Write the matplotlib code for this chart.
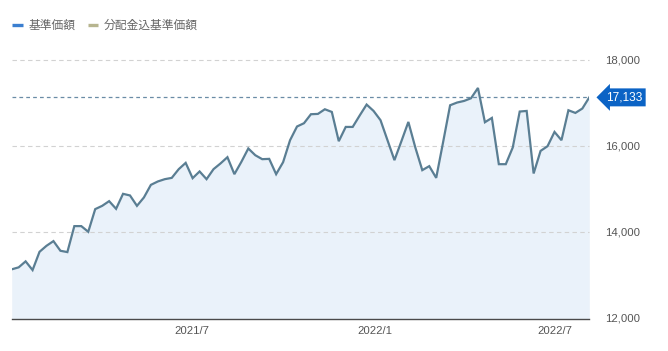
import matplotlib
matplotlib.use("Agg")
import matplotlib.pyplot as plt
from matplotlib.lines import Line2D
import numpy as np
import pandas as pd

start_date = "2021-01-01"
nav = [13143, 13189, 13328, 13126, 13550, 13689, 13798, 13574, 13543, 14146,
       14146, 14014, 14540, 14616, 14725, 14547, 14895, 14857, 14616, 14811,
       15103, 15182, 15235, 15265, 15467, 15613, 15258, 15414, 15235, 15467,
       15599, 15745, 15351, 15636, 15947, 15791, 15699, 15706, 15351, 15629,
       16139, 16457, 16533, 16742, 16749, 16857, 16795, 16116, 16447, 16447,
       16711, 16966, 16818, 16603, 16139, 15676, 16116, 16563, 15970, 15444,
       15537, 15265, 16100, 16950, 17013, 17050, 17112, 17351, 16556, 16656,
       15583, 15583, 15970, 16804, 16818, 15367, 15891, 16000, 16331, 16139,
       16834, 16772, 16874, 17133]
dates = pd.date_range(start_date, periods=len(nav), freq="7D")
y_ticks = [12000, 14000, 16000, 18000]
x_ticks = ["2021-07-01", "2022-01-01", "2022-07-01"]
x_tick_labels = ["2021/7", "2022/1", "2022/7"]
legend_labels = ["基準価額", "分配金込基準価額"]
legend_colors = ["#3b7fd0", "#b7b58f"]
last_label = "17,133"

plt.rcParams['font.family'] = ['Liberation Sans', 'Noto Sans CJK JP', 'DejaVu Sans']

W, H = 668, 351
fig = plt.figure(figsize=(W / 100, H / 100), dpi=100)
left, right = 11.7, 589.3
top_px, bot_px = 60.0, 318.6
ax = fig.add_axes([left / W, (H - bot_px) / H, (right - left) / W, (bot_px - top_px) / H])
ax.set_xlim(dates[0], dates[-1])
ax.set_ylim(12000, 18000)
ax.patch.set_alpha(0)

line_color = "#5a7e93"
ax.fill_between(dates, nav, 12000, color="#eaf2fa", lw=0, zorder=1)
ax.plot(dates, nav, color=line_color, lw=1.6, zorder=3, solid_joinstyle="miter")

for yv in y_ticks[1:]:
    ax.axhline(yv, color="#d2d2d2", lw=0.8, ls=(0, (4, 3)), zorder=2, clip_on=False)
ax.axhline(nav[-1], color="#6a8ca6", lw=0.9, ls=(0, (3, 2.5)), zorder=2)

for s in ["top", "left", "right"]:
    ax.spines[s].set_visible(False)
ax.spines["bottom"].set_color("#4a4a4a")
ax.spines["bottom"].set_linewidth(1.0)
ax.spines["bottom"].set_zorder(4)

ax.set_yticks([])
ax.set_xticks([pd.Timestamp(d) for d in x_ticks])
ax.set_xticklabels(x_tick_labels, fontsize=8.2, color="#555555")
ax.tick_params(axis="x", length=0, pad=5)

# right-side value labels
for yv in y_ticks:
    ax.annotate(f"{yv:,}", xy=(1, yv), xycoords=("axes fraction", "data"),
                xytext=(51, 0), textcoords="offset pixels",
                ha="right", va="center", fontsize=8.2, color="#555555",
                annotation_clip=False)

# last-value tag
ax.annotate(last_label, xy=(1, nav[-1]), xycoords=("axes fraction", "data"),
            xytext=(17, 0), textcoords="offset pixels",
            ha="left", va="center", fontsize=8.6, color="white",
            bbox=dict(boxstyle="larrow,pad=0.25", fc="#0b63c5", ec="none"),
            annotation_clip=False)

# legend
ly = 1 - 25 / H
for (x0, x1, tx), lab, col in zip([(12, 23, 29), (88, 98, 104)], legend_labels, legend_colors):
    fig.add_artist(Line2D([x0 / W, x1 / W], [ly, ly], color=col, lw=2.4,
                          solid_capstyle="butt", transform=fig.transFigure))
    fig.text(tx / W, ly, lab, fontsize=8.5, color="#666666", va="center",
             ha="left", family=["Noto Sans CJK JP"])

fig.savefig("out.png", dpi=100)
